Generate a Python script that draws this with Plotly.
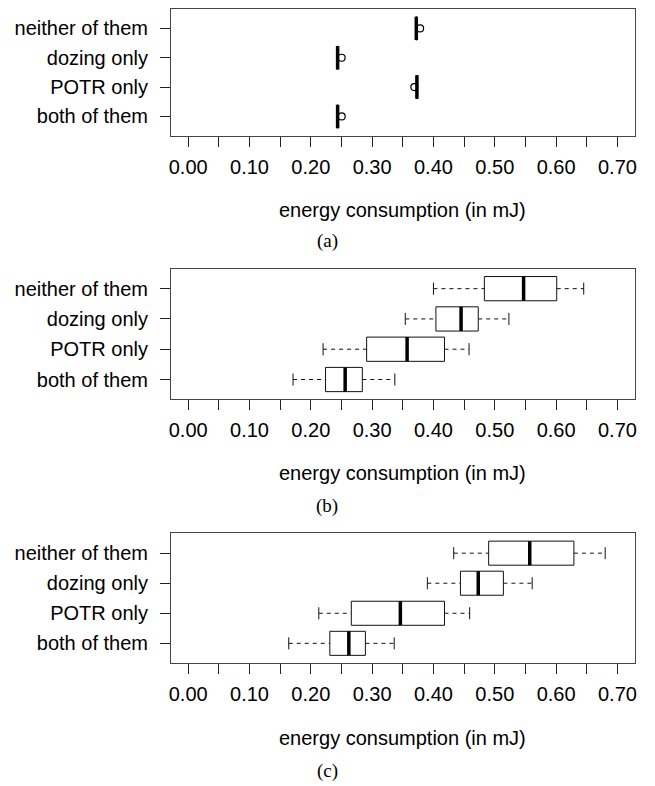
import numpy as np
import plotly.graph_objects as go

categories = ["both of them", "POTR only", "dozing only", "neither of them"]
cat_pos = [1, 2, 3, 4]

# panel (a)
a_low = [0.2432, 0.3722, 0.2432, 0.3712]
a_q1 = [0.2434, 0.3725, 0.2434, 0.3715]
a_med = [0.2437, 0.3730, 0.2437, 0.3720]
a_q3 = [0.2440, 0.3735, 0.2440, 0.3725]
a_high = [0.2442, 0.3738, 0.2442, 0.3728]
a_out = [0.2503, 0.3688, 0.2502, 0.3782]

# panel (b)
b_low = [0.171, 0.220, 0.354, 0.400]
b_q1 = [0.224, 0.291, 0.404, 0.483]
b_med = [0.256, 0.357, 0.445, 0.547]
b_q3 = [0.284, 0.418, 0.473, 0.601]
b_high = [0.337, 0.458, 0.523, 0.645]

# panel (c)
c_low = [0.164, 0.213, 0.390, 0.433]
c_q1 = [0.231, 0.266, 0.444, 0.490]
c_med = [0.262, 0.346, 0.473, 0.557]
c_q3 = [0.289, 0.418, 0.514, 0.629]
c_high = [0.336, 0.459, 0.561, 0.680]

x_ticks = [round(v, 2) for v in np.arange(0, 0.7001, 0.05)]
x_ticktext = [f"{v:.2f}" if i % 2 == 0 else "" for i, v in enumerate(x_ticks)]
x_title = "energy consumption (in mJ)"
captions = ["(a)", "(b)", "(c)"]

panels = [
    (a_low, a_q1, a_med, a_q3, a_high, a_out),
    (b_low, b_q1, b_med, b_q3, b_high, None),
    (c_low, c_q1, c_med, c_q3, c_high, None),
]

OFF = 8  # page body margin
W, H = 655 - OFF, 786 - OFF
ydoms = [(5, 135), (268, 399), (533, 663)]
title_y = [209, 473, 738]
cap_y = [240, 506, 771]
xdom = [(170 - OFF) / W, (636.5 - OFF) / W]

def py(p):
    return min(1.0, max(0.0, 1 - (p - OFF) / H))

fig = go.Figure()
hw = 0.4   # half box width
sw = 0.2   # half staple width
ink = "#111111"

for k, (lo, q1, md, q3, hi, out) in enumerate(panels):
    xa = "x" if k == 0 else f"x{k+1}"
    ya = "y" if k == 0 else f"y{k+1}"
    bx, by, mx, my, wx, wy, cx, cy = [], [], [], [], [], [], [], []
    for i, p in enumerate(cat_pos):
        bx += [q1[i], q3[i], q3[i], q1[i], q1[i], None]
        by += [p - hw, p - hw, p + hw, p + hw, p - hw, None]
        mx += [md[i], md[i], None]
        my += [p - hw, p + hw, None]
        wx += [lo[i], q1[i], None, q3[i], hi[i], None]
        wy += [p, p, None, p, p, None]
        cx += [lo[i], lo[i], None, hi[i], hi[i], None]
        cy += [p - sw, p + sw, None, p - sw, p + sw, None]
    common = dict(xaxis=xa, yaxis=ya, showlegend=False, hoverinfo="skip", mode="lines")
    fig.add_trace(go.Scatter(x=wx, y=wy, line=dict(color=ink, width=1, dash="4px,4px"), **common))
    fig.add_trace(go.Scatter(x=cx, y=cy, line=dict(color=ink, width=1), **common))
    fig.add_trace(go.Scatter(x=bx, y=by, line=dict(color=ink, width=1), **common))
    fig.add_trace(go.Scatter(x=mx, y=my, line=dict(color="black", width=3.5), **common))
    if out is not None:
        fig.add_trace(go.Scatter(x=out, y=cat_pos, mode="markers", xaxis=xa, yaxis=ya,
                                 showlegend=False, hoverinfo="skip",
                                 marker=dict(symbol="circle-open", size=7, color="black",
                                             line=dict(color="black", width=1.2))))

    top, bot = ydoms[k]
    dom = [py(bot), py(top)]
    axis_font = dict(family="Liberation Sans, Arial, sans-serif", size=20, color="black")
    fig.update_layout(**{
        ("xaxis" if k == 0 else f"xaxis{k+1}"): dict(
            domain=xdom, anchor=ya, range=[-0.028, 0.728],
            tickmode="array", tickvals=x_ticks, ticktext=x_ticktext,
            ticks="outside", ticklen=10, tickcolor="#222", tickwidth=1,
            showgrid=False, zeroline=False, showline=True, linecolor="#444",
            linewidth=1, mirror=True, tickfont=axis_font, ticklabelstandoff=3,
        ),
        ("yaxis" if k == 0 else f"yaxis{k+1}"): dict(
            domain=dom, anchor=xa, range=[0.34, 4.66],
            tickmode="array", tickvals=cat_pos, ticktext=categories,
            ticks="outside", ticklen=10, tickcolor="#222", tickwidth=1,
            showgrid=False, zeroline=False, showline=True, linecolor="#444",
            linewidth=1, mirror=True, tickfont=axis_font, ticklabelstandoff=8,
        ),
    })
    fig.add_annotation(text=x_title, xref="paper", yref="paper",
                       x=(xdom[0] + xdom[1]) / 2, y=py(title_y[k]),
                       xanchor="center", yanchor="middle", showarrow=False,
                       font=dict(family="Liberation Sans, Arial, sans-serif", size=20, color="black"))
    fig.add_annotation(text=captions[k], xref="paper", yref="paper",
                       x=(327 - OFF) / W, y=py(cap_y[k]),
                       xanchor="center", yanchor="middle", showarrow=False,
                       font=dict(family="Liberation Serif, Times New Roman, serif", size=19, color="black"))

fig.update_layout(width=W, height=H, margin=dict(l=0, r=0, t=0, b=0),
                  paper_bgcolor="white", plot_bgcolor="white")
fig.write_html("out.html")
